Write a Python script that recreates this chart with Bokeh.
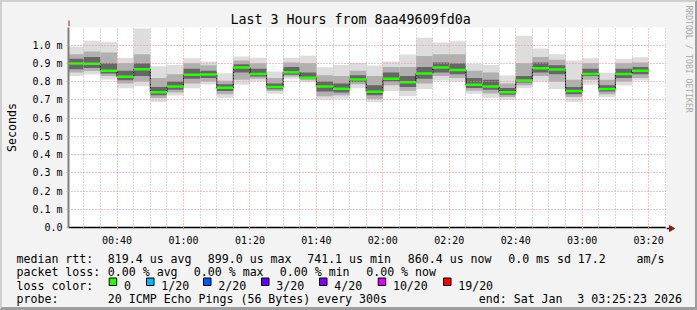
import math
import pandas as pd
from bokeh.plotting import figure
from bokeh.layouts import column, row
from bokeh.models import (FixedTicker, Arrow, NormalHead, Range1d,
                          ColumnDataSource, DatetimeTickFormatter)
from bokeh.core.properties import value
from bokeh.embed import file_html
from bokeh.resources import INLINE

# ---------------- data ----------------
title_text = "Last 3 Hours from 8aa49609fd0a"
range_start = "2026-01-03 00:25:23"
range_end = "2026-01-03 03:25:23"
first_step = "2026-01-03 00:25"
step_minutes = 5
n_steps = 35

# median RTT per 5-minute step (ms)
median_ms = [0.899, 0.898, 0.859, 0.826, 0.868, 0.742, 0.773, 0.837, 0.839, 0.766,
             0.877, 0.842, 0.770, 0.851, 0.821, 0.773, 0.761, 0.811, 0.744, 0.815,
             0.797, 0.844, 0.877, 0.864, 0.782, 0.773, 0.741, 0.806, 0.873, 0.866,
             0.748, 0.842, 0.759, 0.842, 0.860]
# smoke extents (ms): min / 10% / 25% / 75% / 90% / max of the 20 pings
smoke_min = [0.830, 0.839, 0.811, 0.764, 0.775, 0.688, 0.724, 0.764, 0.784, 0.710,
             0.782, 0.800, 0.733, 0.815, 0.797, 0.702, 0.706, 0.764, 0.688, 0.748,
             0.720, 0.760, 0.806, 0.800, 0.733, 0.710, 0.700, 0.764, 0.800, 0.760,
             0.688, 0.782, 0.715, 0.779, 0.806]
smoke_p10 = [0.850, 0.858, 0.830, 0.790, 0.800, 0.710, 0.740, 0.790, 0.800, 0.730,
             0.810, 0.815, 0.748, 0.828, 0.808, 0.720, 0.725, 0.785, 0.705, 0.780,
             0.750, 0.790, 0.830, 0.820, 0.750, 0.735, 0.715, 0.780, 0.830, 0.800,
             0.715, 0.810, 0.730, 0.800, 0.820]
smoke_p25 = [0.868, 0.875, 0.845, 0.808, 0.830, 0.725, 0.755, 0.815, 0.820, 0.748,
             0.850, 0.828, 0.758, 0.838, 0.815, 0.745, 0.740, 0.798, 0.725, 0.800,
             0.770, 0.815, 0.850, 0.840, 0.765, 0.755, 0.728, 0.795, 0.850, 0.840,
             0.730, 0.830, 0.745, 0.820, 0.840]
smoke_p75 = [0.925, 0.935, 0.900, 0.860, 0.900, 0.770, 0.800, 0.870, 0.860, 0.785,
             0.895, 0.870, 0.790, 0.880, 0.850, 0.800, 0.790, 0.835, 0.780, 0.850,
             0.830, 0.880, 0.905, 0.900, 0.820, 0.810, 0.765, 0.830, 0.905, 0.890,
             0.770, 0.870, 0.780, 0.870, 0.880]
smoke_p90 = [0.950, 0.965, 0.960, 0.900, 0.950, 0.820, 0.840, 0.900, 0.890, 0.805,
             0.915, 0.900, 0.820, 0.905, 0.900, 0.835, 0.830, 0.860, 0.830, 0.880,
             0.880, 0.940, 0.950, 0.950, 0.860, 0.850, 0.790, 0.900, 0.935, 0.920,
             0.810, 0.900, 0.810, 0.900, 0.905]
smoke_max = [0.993, 1.024, 1.019, 0.930, 1.091, 0.884, 0.891, 0.928, 0.910, 0.846,
             0.937, 0.931, 0.855, 0.931, 0.942, 0.879, 0.891, 0.902, 0.888, 0.910,
             0.948, 1.041, 1.015, 1.021, 0.897, 0.891, 0.833, 1.051, 0.982, 0.950,
             0.915, 0.928, 0.848, 0.924, 0.933]

y_ticks = [0.0, 0.1, 0.2, 0.3, 0.4, 0.5, 0.6, 0.7, 0.8, 0.9, 1.0]
y_tick_labels = ["0.0", "0.1 m", "0.2 m", "0.3 m", "0.4 m", "0.5 m",
                 "0.6 m", "0.7 m", "0.8 m", "0.9 m", "1.0 m"]
x_tick_labels = ["00:40", "01:00", "01:20", "01:40", "02:00", "02:20", "02:40", "03:00", "03:20"]
y_axis_title = "Seconds"
side_text = "RRDTOOL / TOBI OETIKER"

median_legend = ["median rtt:", "819.4 us avg", "899.0 us max", "741.1 us min",
                 "860.4 us now", "0.0 ms sd", "17.2", "am/s"]
loss_legend = ["packet loss:", "0.00 % avg", "0.00 % max", "0.00 % min", "0.00 % now"]
loss_color_title = "loss color:"
loss_labels = ["0", "1/20", "2/20", "3/20", "4/20", "10/20", "19/20"]
loss_colors = ["#26ff00", "#00b8ff", "#0059ff", "#5e00ff", "#7e00ff", "#dd00ff", "#ff0000"]
probe_legend = ["probe:", "20 ICMP Echo Pings (56 Bytes) every 300s", "end: Sat Jan", "3 03:25:23 2026"]

# ---------------- layout constants (canvas px of the whole 697x310 image) ----------------
W, H = 697, 310
BT, BL, BR, BB = 2, 2, 2, 3          # bevel widths
FL, FR, FT, FB = 66, 666, 27, 228    # plot frame edges
SPLIT = 248                          # where the legend strip starts
MONO = "DejaVu Sans Mono"
BG = "#f3f3f3"
ARROW = "#8b1a1a"

main_w = FR - BL
side_w = W - BR - FR
main_h = SPLIT - BT
leg_h = H - BB - SPLIT

bar_start = pd.date_range(first_step, periods=n_steps, freq=f"{step_minutes}min")
bar_end = bar_start + pd.Timedelta(minutes=step_minutes)

src = ColumnDataSource(dict(left=bar_start, right=bar_end, med=median_ms,
                            lo=smoke_min, p10=smoke_p10, p25=smoke_p25,
                            p75=smoke_p75, p90=smoke_p90, hi=smoke_max))

t0 = pd.Timestamp(range_start).to_pydatetime()
t1 = pd.Timestamp(range_end).to_pydatetime()

p = figure(width=main_w, height=main_h, x_axis_type="datetime", output_backend="svg",
           toolbar_location=None, x_range=Range1d(t0, t1),
           y_range=Range1d(0, (FB - FT) / 183.3),
           min_border_left=FL - BL, min_border_right=0,
           min_border_top=FT - BT, min_border_bottom=main_h - (FB - BT))
p.frame_align = False
p.background_fill_color = "#ffffff"
p.border_fill_color = BG
p.outline_line_color = None

# title
p.title.text = title_text
p.title.text_font = MONO
p.title.text_font_size = "13.3px"
p.title.text_font_style = "normal"
p.title.text_color = "#000000"
p.title.align = "left"
p.title.offset = 228 - FL
p.title.standoff = 2

# smoke
p.quad(left="left", right="right", bottom="lo", top="hi", source=src,
       fill_color="#dddddd", line_color=None)
p.quad(left="left", right="right", bottom="p10", top="p90", source=src,
       fill_color="#b0b0b0", line_color=None)
p.quad(left="left", right="right", bottom="p25", top="p75", source=src,
       fill_color="#666666", line_color=None)

# median step line + loss-colored median
step_x = list(bar_start) + [bar_end[-1]]
step_y = list(median_ms) + [median_ms[-1]]
p.step(step_x, step_y, mode="after", line_color="#000000", line_width=1)
p.segment(x0="left", x1="right", y0="med", y1="med", source=src,
          line_color=loss_colors[0], line_width=2.5)

# axes / ticks
def ms(ts):
    return float(pd.Timestamp(ts).value // 10**6)

x_major = [ms("2026-01-03 " + t) for t in x_tick_labels]
x_minor = [ms(t) for t in pd.date_range("2026-01-03 00:30", "2026-01-03 03:25", freq="5min")
           if ms(t) not in x_major]
p.xaxis.ticker = FixedTicker(ticks=x_major, minor_ticks=x_minor)
p.xaxis.formatter = DatetimeTickFormatter(minutes="%H:%M", hourmin="%H:%M", hours="%H:%M")
p.xaxis.major_label_overrides = {v: l for v, l in zip(x_major, x_tick_labels)}
p.yaxis.ticker = FixedTicker(ticks=y_ticks)
p.yaxis.major_label_overrides = {v: l for v, l in zip(y_ticks, y_tick_labels)}

for ax in (p.xaxis[0], p.yaxis[0]):
    ax.major_label_text_font = MONO
    ax.major_label_text_font_size = "10px"
    ax.major_label_text_color = "#000000"
    ax.minor_tick_line_color = None
    ax.major_tick_in = 0
    ax.major_tick_out = 2
    ax.major_tick_line_color = "#f09090"
p.xaxis.axis_line_color = "#000000"
p.xaxis.axis_line_width = 1.5
p.xaxis.major_label_standoff = 3
p.yaxis.axis_line_color = "#7f7f7f"
p.yaxis.axis_line_width = 2
p.yaxis.major_label_standoff = 4
p.yaxis.axis_label = y_axis_title
p.yaxis.axis_label_text_font = MONO
p.yaxis.axis_label_text_font_size = "11.6px"
p.yaxis.axis_label_text_font_style = "normal"
p.yaxis.axis_label_text_color = "#000000"
p.yaxis.axis_label_standoff = 10

p.xgrid.grid_line_color = "#f08c8c"
p.xgrid.grid_line_dash = "1 2"
p.xgrid.minor_grid_line_color = "#b8b8b8"
p.xgrid.minor_grid_line_dash = "1 2"
p.ygrid.grid_line_color = "#f08c8c"
p.ygrid.grid_line_dash = "1 2"
p.xgrid.level = "overlay"
p.ygrid.level = "overlay"

# y axis arrow
p.add_layout(Arrow(x_start=0.5, y_start=FB - FT, x_end=0.5, y_end=FB - 21,
                   start_units="screen", end_units="screen",
                   line_color=ARROW, line_width=1,
                   end=NormalHead(size=6, fill_color=ARROW, line_color=ARROW)))

# ---------------- right strip: x-axis arrow head + credit (canvas px coords) ----------------
s = figure(width=side_w, height=main_h, output_backend="svg", toolbar_location=None,
           x_range=Range1d(FR, W - BR), y_range=Range1d(SPLIT, BT),
           min_border=0, min_border_left=0, min_border_right=0,
           min_border_top=0, min_border_bottom=0)
s.frame_align = False
s.axis.visible = False
s.grid.visible = False
s.outline_line_color = None
s.background_fill_color = BG
s.border_fill_color = BG
s.segment(x0=[FR], y0=[FB], x1=[670], y1=[FB], line_color="#000000", line_width=1.5)
s.patch(x=[669, 674, 669], y=[FB - 3, FB, FB + 3], fill_color=ARROW, line_color=ARROW)
s.text(x=[688], y=[5], text=[side_text], angle=-math.pi / 2,
       text_font=value(MONO), text_font_size="8.1px", text_color="#a8a8a8",
       text_align="left", text_baseline="middle")

# ---------------- legend strip (canvas pixel coordinates) ----------------
q = figure(width=W - BL - BR, height=leg_h, output_backend="svg", toolbar_location=None,
           x_range=Range1d(BL, W - BR), y_range=Range1d(H - BB, SPLIT),
           min_border=0, min_border_left=0, min_border_right=0,
           min_border_top=0, min_border_bottom=0)
q.frame_align = False
q.axis.visible = False
q.grid.visible = False
q.outline_line_color = None
q.background_fill_color = BG
q.border_fill_color = BG

row_y = [258.3, 271.8, 285.2, 298.7]
tx, ty, tt = [], [], []
median_x = [16, 107.3, 207.3, 306.7, 407.3, 507.7, 577.3, 636]
for t, x in zip(median_legend, median_x):
    tx.append(x); ty.append(row_y[0]); tt.append(t)
loss_x = [16, 107.3, 193.3, 279.3, 365.7]
for t, x in zip(loss_legend, loss_x):
    tx.append(x); ty.append(row_y[1]); tt.append(t)
tx.append(16); ty.append(row_y[2]); tt.append(loss_color_title)
box_x = [108.7, 146.0, 203.0, 261.0, 319.0, 377.7, 443.0]
for lab, bx in zip(loss_labels, box_x):
    tx.append(bx + 14.7); ty.append(row_y[2]); tt.append(lab)
probe_x = [16, 107.3, 478.3, 576.7]
for t, x in zip(probe_legend, probe_x):
    tx.append(x); ty.append(row_y[3]); tt.append(t)

q.text(x=tx, y=ty, text=tt, text_font=value(MONO), text_font_size="11.6px",
       text_align="left", text_baseline="alphabetic", text_color="#000000")
q.quad(left=box_x, right=[b + 7.5 for b in box_x],
       top=[277.5] * len(box_x), bottom=[285.0] * len(box_x),
       fill_color=loss_colors, line_color="#000000", line_width=1)

layout = column(row(p, s, spacing=0), q, spacing=0,
                styles={"border-top": f"{BT}px solid #cfcfcf",
                        "border-left": f"{BL}px solid #cfcfcf",
                        "border-right": f"{BR}px solid #9e9e9e",
                        "border-bottom": f"{BB}px solid #9e9e9e",
                        "background-color": BG})

open("out.html", "w").write(file_html(layout, INLINE))
